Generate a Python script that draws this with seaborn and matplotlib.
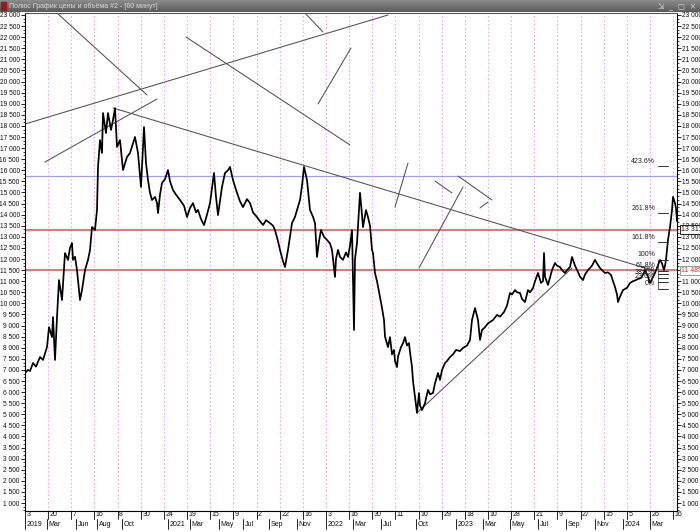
import numpy as np
import pandas as pd
import matplotlib
matplotlib.use("Agg")
import matplotlib.pyplot as plt
import seaborn as sns
from matplotlib.ticker import MultipleLocator, FuncFormatter
from matplotlib.lines import Line2D

sns.set_style("white")
plt.rcParams['font.family'] = ['Liberation Sans', 'DejaVu Sans']

# ---------------- data ----------------
# bar position (chart position index) and close price
bar = [0, 3, 5, 8, 11, 15, 18, 22, 24, 27, 28, 30, 32, 34, 37, 40, 43, 45, 47, 48, 50, 52, 55, 57, 60, 63, 65,
       67, 70, 72, 73, 75, 77, 78, 81, 83, 86, 88, 90, 92, 95, 98, 102, 105, 110, 113, 116, 119, 121, 123, 125,
       127, 130, 132, 133, 135, 137, 140, 143, 145, 148, 151, 155, 159, 162, 165, 168, 171, 173, 176, 179, 182,
       185, 187, 189, 191, 193, 195, 197, 200, 203, 205, 208, 212, 215, 218, 222, 225, 228, 232, 235, 238, 241,
       245, 248, 250, 253, 255, 258, 260, 263, 265, 267, 270, 272, 275, 277, 279, 282, 285, 288, 290, 292, 294,
       296, 299, 302, 305, 307, 310, 311, 313, 315, 318, 321, 323, 325, 327, 329, 330, 332, 335, 336, 338, 341,
       343, 345, 347, 348, 350, 352, 355, 357, 359, 360, 363, 365, 367, 369, 370, 372, 373, 376, 378, 380, 382,
       384, 385, 387, 388, 390, 392, 394, 395, 397, 400, 403, 405, 408, 410, 413, 415, 417, 420, 422, 425, 428,
       431, 435, 438, 442, 445, 447, 450, 453, 455, 457, 460, 463, 468, 472, 475, 479, 482, 485, 487, 490, 492,
       495, 497, 500, 503, 505, 508, 510, 513, 516, 518, 519, 520, 523, 527, 530, 532, 535, 537, 540, 542, 545,
       547, 550, 553, 555, 558, 560, 563, 567, 570, 572, 575, 577, 580, 583, 586, 588, 590, 592, 593, 595, 598,
       602, 605, 608, 611, 613, 616, 618, 620, 623, 625, 627, 630, 632, 635, 637, 639, 640, 641, 643, 645, 647,
       648, 650, 651, 652]
price = [6860, 7000, 6950, 7310, 7150, 7580, 7450, 8030, 8930, 8480, 9380, 7450, 9380, 11050, 10150, 12270,
         11960, 12500, 12720, 11960, 12100, 11500, 10150, 10600, 11500, 11960, 12400, 13440, 13310, 14210, 16150,
         17360, 16780, 18580, 17680, 18580, 17820, 18270, 18800, 17050, 17360, 16010, 16600, 16780, 17500, 16780,
         15250, 17950, 16330, 15560, 14980, 14660, 14800, 14520, 14070, 14900, 15430, 15600, 16010, 15500, 15110,
         14900, 14660, 14400, 13890, 14300, 14520, 14100, 14210, 13800, 13530, 14000, 14520, 15200, 15880, 14800,
         13980, 14600, 15250, 15880, 16000, 16150, 15560, 14980, 14600, 14340, 14700, 14520, 14100, 13890, 13700,
         13530, 13750, 13620, 13500, 13310, 12800, 12410, 11900, 11640, 12410, 13000, 13620, 13900, 14210, 14660,
         15300, 16150, 15560, 14210, 13900, 13620, 12090, 12800, 13310, 13000, 12860, 12700, 12410, 11190, 12000,
         12410, 12100, 11960, 12300, 12090, 12600, 13310, 8800, 12000, 12720, 14980, 14500, 13440, 14200, 13890,
         13500, 12410, 12270, 11370, 11000, 10290, 9800, 9250, 8500, 8030, 8480, 7700, 7900, 7400, 7130, 7600,
         8030, 8200, 8480, 8100, 8210, 7800, 7130, 6500, 5780, 5060, 5960, 5400, 5190, 5500, 6100, 5900, 5960,
         6400, 6860, 6550, 7000, 7310, 7400, 7580, 7700, 7900, 7850, 7990, 8100, 8350, 9250, 9790, 9250, 8350,
         8800, 8930, 9100, 9250, 9480, 9400, 9610, 9900, 10470, 10400, 10600, 10500, 10470, 10200, 10060, 10600,
         10500, 10690, 11000, 11370, 10920, 11000, 12270, 11200, 10830, 11500, 11820, 11700, 11640, 11500, 11370,
         11500, 11640, 12090, 11700, 11410, 11200, 11050, 11300, 11500, 11700, 11960, 11800, 11590, 11500, 11370,
         11400, 11280, 11000, 10740, 10400, 10060, 10300, 10600, 10700, 10920, 11000, 11050, 11100, 11140, 11300,
         11500, 11200, 10920, 11100, 11370, 11600, 11960, 11800, 11500, 11700, 11960, 12860, 13440, 14200, 14800,
         14520, 14300, 13700, 13311]
n = min(len(bar), len(price))
df = pd.DataFrame({"bar": bar[:n], "price": price[:n]})

# horizontal levels
red_levels = [13311, 11485]
blue_level = 15750
# fibonacci levels
fib_names = ["423.6%", "261.8%", "161.8%", "100%", "61.8%", "50%", "38.2%", "23.6%", "0%"]
fib_values = [16190, 14070, 12770, 11967, 11470, 11317, 11164, 10974, 10667]

# trend lines (bar1, price1, bar2, price2)
trend_lines = [
    (0, 18086, 363, 23000),
    (32, 23090, 122, 19394),
    (20, 16373, 132, 19213),
    (88, 18808, 630, 11460),
    (393, 5103, 547, 11595),
    (280, 23090, 298, 22234),
    (161, 22008, 325, 17140),
    (293, 18988, 326, 21512),
    (370, 14345, 383, 16328),
    (410, 15517, 427, 14976),
    (394, 11595, 438, 15246),
    (433, 15742, 467, 14660),
    (455, 14300, 463, 14570),
]

day_labels = ["3", "20", "7", "16", "8", "30", "24", "19", "15", "9", "2", "22", "16", "3",
              "16", "30", "11", "10", "29", "18", "10", "28", "21", "9", "27", "15", "5", "26", "16"]
month_labels = ["2019", "Mar", "Jun", "Aug", "Oct", "2021", "Mar", "May", "Jul", "Sep", "Nov", "2022",
                "Mar", "Jul", "Oct", "2023", "Mar", "May", "Jul", "Sep", "Nov", "2024", "Mar"]
month_pos = [0, 22, 51, 72, 97, 143, 165, 194, 218, 244, 272, 301, 328, 356, 391, 431, 458, 485, 513,
             541, 570, 598, 625]
day_step = 23.15

# ---------------- figure ----------------
W, H = 700, 532
fig = plt.figure(figsize=(W / 100, H / 100), dpi=100)
fig.patch.set_facecolor("white")

# title bar
tax = fig.add_axes([0, (H - 12) / H, 1, 12 / H])
grad = np.linspace(0, 1, 12).reshape(-1, 1)
tax.imshow(grad, aspect="auto", cmap=matplotlib.colors.LinearSegmentedColormap.from_list(
    "tb", ["#8a8a8a", "#5c5c5c"]), extent=[0, 1, 0, 1])
tax.set_axis_off()
tax.add_patch(plt.Rectangle((0.002, 0.2), 0.007, 0.6, color="#8b2020"))
tax.text(0.013, 0.5, "Полюс График цены и объёма #2 - [60 минут]", color="#dcdcdc",
         fontsize=5, va="center", ha="left")
tax.text(0.995, 0.5, "⇲  _  □  ×", color="#d0d0d0", fontsize=5.5, va="center", ha="right",
         family=["DejaVu Sans"])

left, right, top, bottom = 25, 677, 13, 511
ax = fig.add_axes([left / W, (H - bottom) / H, (right - left) / W, (bottom - top) / H])

# vertical dotted grid
for k in range(1, 29):
    ax.axvline(k * day_step, color="#ee9aee", lw=0.7, ls=(0, (1.5, 2.5)), zorder=0)

# horizontal levels
for lv in red_levels:
    ax.axhline(lv, color="#e06a6a", lw=1.3, zorder=1)
ax.axhline(blue_level, color="#a0a0dc", lw=0.9, zorder=1)

# trend lines
for x1, p1, x2, p2 in trend_lines:
    ax.plot([x1, x2], [p1, p2], color="#505050", lw=0.75, zorder=2)

# price line
sns.lineplot(data=df, x="bar", y="price", ax=ax, color="black", lw=1.25, zorder=3,
             estimator=None, sort=False)

# fibonacci
ax.plot([633, 633], [fib_values[3], fib_values[-1]], color="#505050", lw=0.6, zorder=2)
for name, v in zip(fib_names, fib_values):
    ax.plot([633, 643], [v, v], color="#303030", lw=0.7, zorder=4)
    ax.text(630, v + 60, name, fontsize=5, ha="right", va="bottom", color="#202020", zorder=4)

ax.set_xlim(0, 652)
ax.set_ylim(640, 23090)
ax.set_xlabel("")
ax.set_ylabel("")
ax.set_xticks([])

fmt = FuncFormatter(lambda v, p: f"{int(round(v)):,}".replace(",", " "))
ax.yaxis.set_major_locator(MultipleLocator(500))
ax.yaxis.set_minor_locator(MultipleLocator(500 / 3))
ax.yaxis.set_major_formatter(fmt)
ax.tick_params(axis="y", which="major", left=True, right=True, labelleft=True, labelright=True,
               length=3, width=0.6, labelsize=4.8, pad=0.8, color="black", labelcolor="#111111")
ax.tick_params(axis="y", which="minor", left=True, right=True, length=1.5, width=0.5, color="black")
for s in ["left", "right", "bottom"]:
    ax.spines[s].set_color("black")
    ax.spines[s].set_linewidth(0.8)
ax.spines["top"].set_color("#555555")
ax.spines["top"].set_linewidth(0.8)

# boxed price labels on the right
ax.text(1.006, red_levels[0], "13 311", transform=ax.get_yaxis_transform(), fontsize=5,
        ha="left", va="center", color="#111111", clip_on=False, zorder=6,
        bbox=dict(boxstyle="square,pad=0.15", fc="white", ec="black", lw=0.6))
ax.text(1.006, red_levels[1], "11 485", transform=ax.get_yaxis_transform(), fontsize=5,
        ha="left", va="center", color="#e03030", clip_on=False, zorder=6,
        bbox=dict(boxstyle="square,pad=0.15", fc="white", ec="#888888", lw=0.6))

# date band
dax = fig.add_axes([left / W, 0, (right - left) / W, (H - bottom) / H])
dax.set_xlim(0, 652)
dax.set_ylim(0, 1)
dax.set_axis_off()
row_split = (H - 519) / (H - bottom)
row_bot = (H - 529) / (H - bottom)
for k, lab in enumerate(day_labels):
    xk = k * day_step
    dax.add_line(Line2D([xk, xk], [1, row_split], color="black", lw=0.6, clip_on=False))
    dax.text(xk + 1.5, (1 + row_split) / 2, lab, fontsize=5, ha="left", va="center",
             color="#111111", clip_on=False)
for pos, lab in zip(month_pos, month_labels):
    dax.add_line(Line2D([pos, pos], [row_split, row_bot], color="black", lw=0.6, clip_on=False))
    dax.text(pos + 1.5, (row_split + row_bot) / 2, lab, fontsize=5, ha="left", va="center",
             color="#111111", clip_on=False)

fig.savefig("out.png", dpi=100)
